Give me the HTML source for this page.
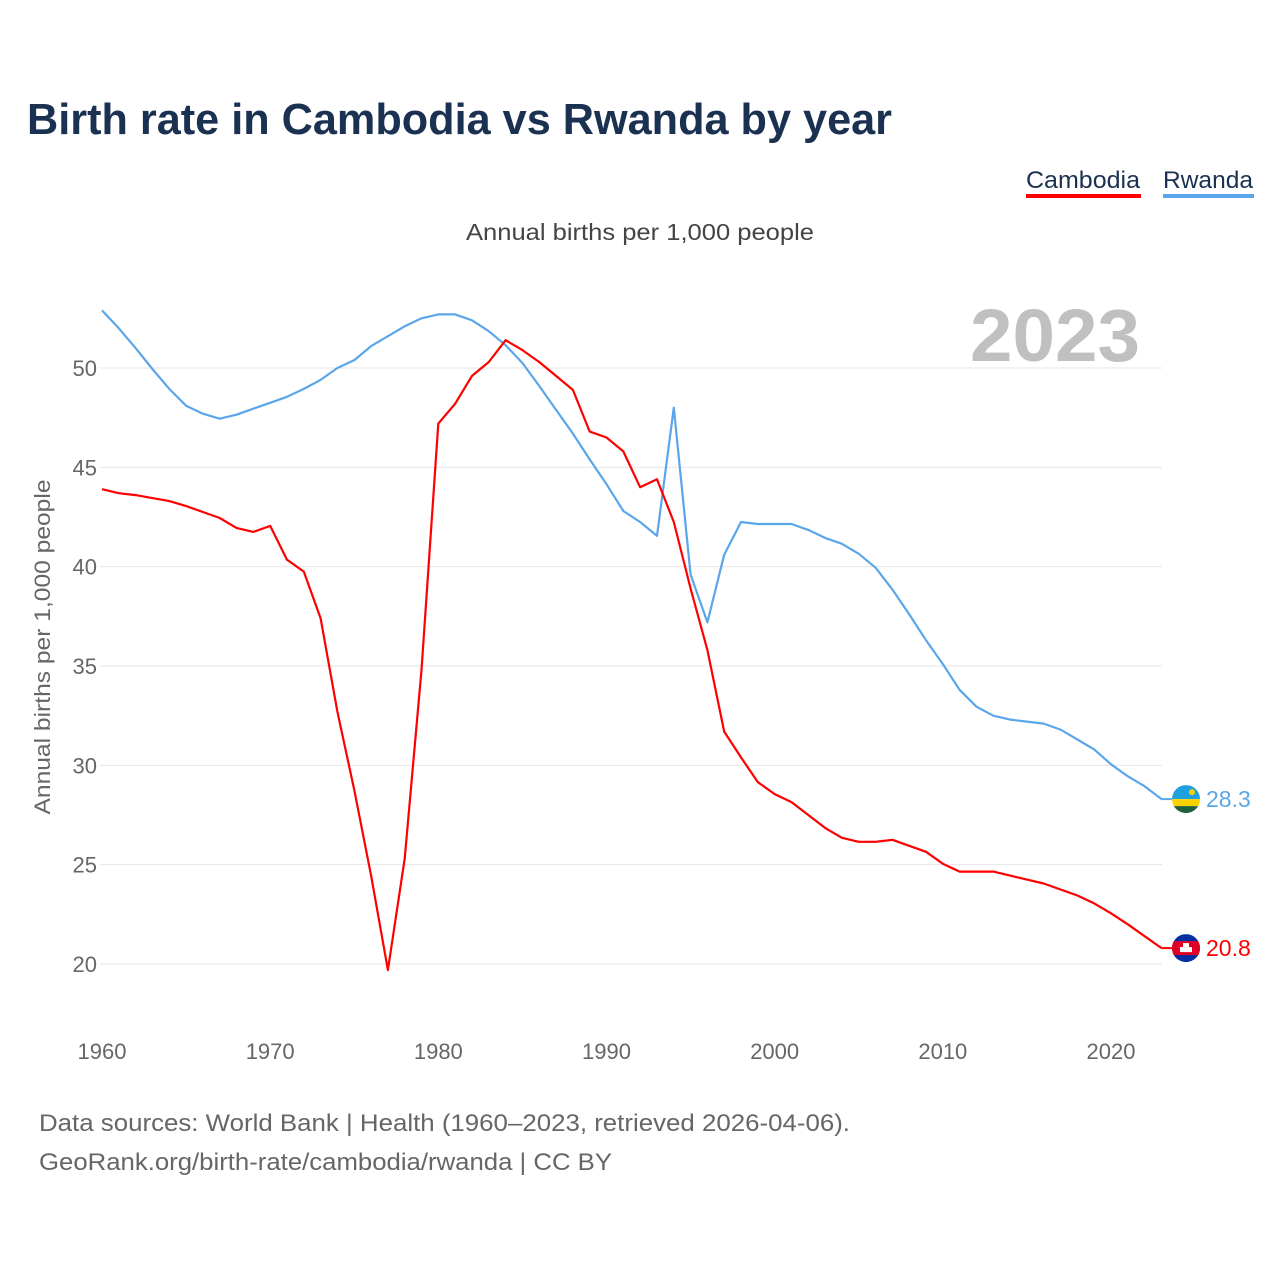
<!DOCTYPE html>
<html><head><meta charset="utf-8">
<style>
body{margin:0;background:#fff;font-family:"Liberation Sans",sans-serif;}
#wrap{position:relative;width:1280px;height:1280px;overflow:hidden;}
</style></head>
<body><div id="wrap">
<svg id="chart" width="1280" height="1280"></svg>
</div>
<script>
const years=[];for(let y=1960;y<=2023;y++)years.push(y);
const cambodia=[43.9,43.7,43.6,43.45,43.3,43.05,42.75,42.45,41.95,41.75,42.05,40.35,39.75,37.4,32.7,28.75,24.45,19.7,25.3,34.8,47.2,48.2,49.6,50.3,51.4,50.9,50.3,49.6,48.9,46.8,46.5,45.8,44.0,44.4,42.25,38.9,35.8,31.7,30.4,29.15,28.55,28.15,27.5,26.85,26.35,26.15,26.15,26.25,25.95,25.65,25.05,24.65,24.65,24.65,24.45,24.25,24.05,23.75,23.45,23.05,22.55,22.0,21.4,20.8];
const rwanda=[52.9,52.0,51.0,49.95,48.95,48.1,47.7,47.45,47.65,47.95,48.25,48.55,48.95,49.4,50.0,50.4,51.1,51.6,52.1,52.5,52.7,52.7,52.4,51.85,51.15,50.25,49.1,47.9,46.7,45.4,44.15,42.8,42.25,41.55,48.0,39.6,37.2,40.6,42.25,42.15,42.15,42.15,41.85,41.45,41.15,40.65,39.95,38.85,37.6,36.3,35.1,33.8,32.95,32.5,32.3,32.2,32.1,31.8,31.3,30.8,30.05,29.45,28.95,28.3];
const yTicks=[20,25,30,35,40,45,50];
const xTicks=[1960,1970,1980,1990,2000,2010,2020];
const X=y=>102+(y-1960)*1009/60;
const Y=v=>368+(50-v)*596/30;
const NS="http://www.w3.org/2000/svg";
const svg=document.getElementById('chart');
function el(t,a,txt){const e=document.createElementNS(NS,t);for(const k in a)e.setAttribute(k,a[k]);if(txt!==undefined)e.textContent=txt;svg.appendChild(e);return e;}
let e;
e=el('text',{x:27,y:134,'font-size':44,'font-weight':'bold',fill:'#1b3151',textLength:865,lengthAdjust:'spacingAndGlyphs'},'Birth rate in Cambodia vs Rwanda by year');


e=el('text',{x:466,y:240,'font-size':23,fill:'#444',textLength:348,lengthAdjust:'spacingAndGlyphs'},'Annual births per 1,000 people');


e=el('text',{x:1026,y:188,'font-size':24,fill:'#1b3151',textLength:114,lengthAdjust:'spacingAndGlyphs'},'Cambodia');


el('rect',{x:1026,y:194,width:115,height:4,fill:'#ff0000'});
e=el('text',{x:1163,y:188,'font-size':24,fill:'#1b3151',textLength:90,lengthAdjust:'spacingAndGlyphs'},'Rwanda');


el('rect',{x:1163,y:194,width:91,height:4,fill:'#5ba6ea'});
yTicks.forEach(t=>{
 const g=el('line',{x1:100,x2:1162,y1:Y(t),y2:Y(t),stroke:'#e6e6e6','stroke-width':1});
 
 
 const l=el('text',{x:97,y:Y(t)+8,'font-size':22,fill:'#666','text-anchor':'end'},t);
 
 
});
xTicks.forEach(t=>{
 const l=el('text',{x:X(t),y:1059,'font-size':22,fill:'#666','text-anchor':'middle'},t);
 
 
});
e=el('text',{x:0,y:0,'font-size':22,fill:'#666','text-anchor':'middle',textLength:335,lengthAdjust:'spacingAndGlyphs',transform:'translate(50,647) rotate(-90)'},'Annual births per 1,000 people');


e=el('text',{x:1140,y:361,'font-size':74,'font-weight':'bold',fill:'#c0c0c0','text-anchor':'end',textLength:170,lengthAdjust:'spacingAndGlyphs'},'2023');


function line(arr,color,name){
 const d=arr.map((v,i)=>(i?'L':'M')+X(years[i]).toFixed(1)+','+Y(v).toFixed(1)).join('');
 const p=el('path',{d:d,fill:'none',stroke:color,'stroke-width':2.2,'stroke-linejoin':'round'});
 
 
}
line(rwanda,'#5ba6ea','rwanda-line');
line(cambodia,'#ff0000','cambodia-line');
const fx=1186;
function flag(v,name,drawFn,label,color){
 const cy=Y(v);
 el('line',{x1:X(2023),x2:fx-14,y1:cy,y2:cy,stroke:color,'stroke-width':2});
 const clip=el('clipPath',{id:'c'+name});
 const c=document.createElementNS(NS,'circle');c.setAttribute('cx',fx);c.setAttribute('cy',cy);c.setAttribute('r',14);clip.appendChild(c);
 const g=el('g',{'clip-path':'url(#c'+name+')'});
 
 
 drawFn(g,cy);
 const t=el('text',{x:1206,y:cy+8,'font-size':23,fill:color},label);
 
 
}
function r(g,a){const e=document.createElementNS(NS,'rect');for(const k in a)e.setAttribute(k,a[k]);g.appendChild(e);}
flag(rwanda[rwanda.length-1],'rwanda',(g,cy)=>{
 r(g,{x:fx-14,y:cy-14,width:28,height:14,fill:'#20a0de'});
 r(g,{x:fx-14,y:cy,width:28,height:7,fill:'#fad201'});
 r(g,{x:fx-14,y:cy+7,width:28,height:7,fill:'#20603d'});
 const s=document.createElementNS(NS,'circle');s.setAttribute('cx',fx+6);s.setAttribute('cy',cy-7);s.setAttribute('r',3);s.setAttribute('fill','#fad201');g.appendChild(s);
},rwanda[rwanda.length-1].toFixed(1),'#5ba6ea');
flag(cambodia[cambodia.length-1],'cambodia',(g,cy)=>{
 r(g,{x:fx-14,y:cy-14,width:28,height:28,fill:'#032ea1'});
 r(g,{x:fx-14,y:cy-7,width:28,height:14,fill:'#e00025'});
 r(g,{x:fx-6,y:cy-1,width:12,height:5,fill:'#fff'});
 r(g,{x:fx-3,y:cy-5,width:6,height:4,fill:'#fff'});
},cambodia[cambodia.length-1].toFixed(1),'#ff0000');
e=el('text',{x:39,y:1131,'font-size':24,fill:'#666',textLength:811,lengthAdjust:'spacingAndGlyphs'},'Data sources: World Bank | Health (1960–2023, retrieved 2026-04-06).');


e=el('text',{x:39,y:1170,'font-size':24,fill:'#666',textLength:573,lengthAdjust:'spacingAndGlyphs'},'GeoRank.org/birth-rate/cambodia/rwanda | CC BY');


</script>
</body></html>
